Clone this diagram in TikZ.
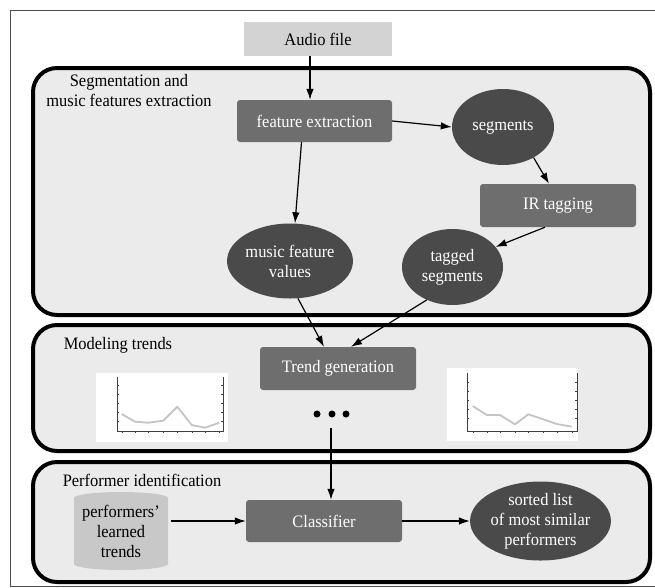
\documentclass[tikz,border=0pt]{standalone}
\usepackage{fontspec}
\setmainfont{Liberation Serif}[FakeStretch=0.94]
\usetikzlibrary{arrows.meta,shapes.geometric,calc}
\definecolor{panelgray}{HTML}{EBEBEB}
\definecolor{boxgray}{HTML}{6E6E6E}
\definecolor{circgray}{HTML}{4A4A4A}
\definecolor{audiogray}{HTML}{D3D3D3}
\definecolor{cylgray}{HTML}{C8C8C8}
\definecolor{plotline}{HTML}{C4C4C4}
\begin{document}
\begin{tikzpicture}[x=1pt,y=-1pt,
  every node/.style={font=\fontsize{17.5}{20}\selectfont, align=center, inner sep=0pt},
  panel/.style={draw=black, line width=4pt, fill=panelgray, rounded corners=24pt},
  procbox/.style={rectangle, fill=boxgray, text=white, rounded corners=3pt},
  datacirc/.style={ellipse, fill=circgray, text=white},
  arr/.style={-{Latex[length=11pt,width=7.5pt]}, line width=1.2pt},
  chartbox/.style={fill=white, draw=none},
  axis/.style={draw=black!75, line width=0.5pt},
  trend/.style={draw=plotline, line width=1.8pt, line join=round},
  dotnode/.style={circle, fill=black, minimum size=7pt}
]
\useasboundingbox (0,0) rectangle (655,587);
\fill[white] (0,0) rectangle (655,587);
% outer frame
\draw[black!70, line width=0.8pt] (10,10) rectangle (656,586);

% panels
\draw[panel] (33,68) rectangle (650,315);
\draw[panel] (33,325) rectangle (650,451);
\draw[panel] (33,462) rectangle (650,582);

% panel labels
\node (lab1) at (129,91) {Segmentation and\\music features extraction};
\node (lab2) at (118,345) {Modeling trends};
\node (lab3) at (142,480) {Performer identification};

% top part
\node[fill=audiogray, minimum width=148pt, minimum height=34pt] (audio) at (318,39) {Audio file};
\node[procbox, minimum width=155pt, minimum height=42pt] (fe) at (314.5,121) {feature extraction};
\node[datacirc, minimum width=102pt, minimum height=76pt] (seg) at (503,127) {segments};
\node[procbox, minimum width=156pt, minimum height=43pt] (ir) at (558,205.5) {IR tagging};
\node[datacirc, minimum width=103pt, minimum height=75pt] (mfv) at (290,261) {music feature\\values};
\node[datacirc, minimum width=101pt, minimum height=76pt] (tag) at (452.5,267) {tagged\\segments};

% modeling trends
\node[procbox, minimum width=156pt, minimum height=43pt] (tg) at (338,368.5) {Trend generation};
\node[dotnode] (d1) at (317,414) {};
\node[dotnode] (d2) at (332,414) {};
\node[dotnode] (d3) at (346,414) {};
\coordinate (dstart) at (331,428);

% left chart
\fill[chartbox] (96,373) rectangle (228,442);
\draw[axis] (117,377) -- (117,431) -- (223,431) -- (223,377);
\foreach \yy in {385,394,403,412,421} {\draw[axis] (117,\yy) -- (119,\yy); \draw[axis] (223,\yy) -- (221,\yy);}
\foreach \xx in {122,135,148,163,177,192,205,219} {\draw[axis] (\xx,431) -- (\xx,433);}
\draw[trend] (121.7,414) -- (135,421.7) -- (148.3,422.7) -- (163.3,420.7) -- (177.3,406.7) -- (191.7,425) -- (205,427.7) -- (219.3,422.7);

% right chart
\fill[chartbox] (447,368) rectangle (578,441);
\draw[axis] (467,373) -- (467,431) -- (577,431) -- (577,373);
\foreach \yy in {382,391,400,409,418} {\draw[axis] (467,\yy) -- (469,\yy); \draw[axis] (577,\yy) -- (575,\yy);}
\foreach \xx in {473,487,500,515,528,543,557,572} {\draw[axis] (\xx,431) -- (\xx,433);}
\draw[trend] (472.7,406) -- (486.7,415) -- (500,415) -- (515,424.3) -- (528.3,414.3) -- (543.3,419.3) -- (556.7,424) -- (571.7,426.7);

% performer identification
\fill[cylgray] (74,498) -- (74,564) arc[start angle=180, end angle=0, x radius=47, y radius=6]
  -- (168,498) arc[start angle=0, end angle=-180, x radius=47, y radius=6] -- cycle;
\node[minimum width=94pt, minimum height=78pt] (cyl) at (121,531) {performers'\\learned\\trends};
\node[procbox, minimum width=156pt, minimum height=42pt] (cls) at (324,521) {Classifier};
\node[datacirc, minimum width=111pt, minimum height=78pt] (sorted) at (540.5,521) {sorted list\\of most similar\\performers};

% connectors
\draw[arr] ([xshift=-8pt]audio.south) -- ([xshift=-4.5pt]fe.north);
\draw[arr] (fe.east) -- (seg.west);
\draw[arr] ([xshift=-13pt]fe.south) -- ([xshift=5pt]mfv.north);
\draw[arr] (seg.-45) -- ([xshift=-9pt]ir.north);
\draw[arr] ([xshift=-13pt]ir.south) -- (tag.25);
\draw[arr] (mfv.-78) -- ([xshift=-14pt]tg.north);
\draw[arr] (tag.-128) -- ([xshift=13pt]tg.north);
\draw[arr] (dstart) -- ([xshift=7pt]cls.north);
\draw[arr] ($(cyl.east |- cls.west)+(3,0)$) -- (cls.west);
\draw[arr] (cls.east) -- (sorted.west);
\end{tikzpicture}
\end{document}
